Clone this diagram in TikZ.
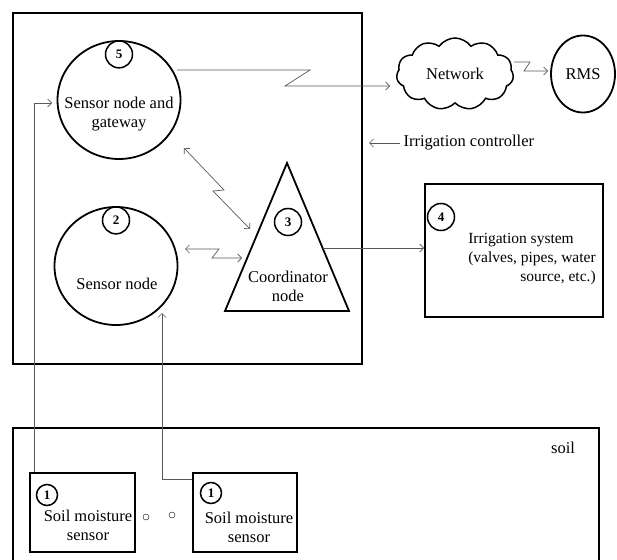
\documentclass[tikz,border=0pt]{standalone}
\usepackage{fontspec}
\setmainfont{Liberation Serif}
\usetikzlibrary{shapes.geometric,shapes.symbols,arrows.meta}
\begin{document}
\begin{tikzpicture}[x=1pt,y=-1pt,
  font=\fontsize{16.5}{19}\selectfont,
  box/.style={draw, line width=2pt},
  bigcirc/.style={draw, ellipse, line width=1.8pt, minimum width=123pt, minimum height=118pt},
  num/.style={draw, circle, line width=1.5pt, inner sep=0pt, minimum size=27pt, font=\fontsize{13}{13}\selectfont\bfseries},
  link/.style={draw=black!65, line width=0.7pt, -{Straight Barb[length=4pt,width=8pt]}}]
  \useasboundingbox (0,0) rectangle (617,559);
  \draw[box] (13,13) rectangle (362,364);
  \node[bigcirc] (gw) at (119,100) {};
  \node[num, anchor=north] (n5) at (gw.north) {5};
  \node[align=center] (gwtext) at (119,114) {Sensor node and\\gateway};
  \node[bigcirc] (sn) at (116,266) {};
  \node[num, anchor=north] (n2) at (sn.north) {2};
  \node (sntext) at (117,284) {Sensor node};
  \draw[line width=1.8pt] (287,163) -- (349,311) -- (225,311) -- cycle;
  \node[num] (n3) at (288,222) {3};
  \node[align=center] (cotext) at (288,286) {Coordinator\\node};
  \node[cloud, draw, line width=1.5pt, cloud puffs=11, cloud puff arc=110, aspect=1.6,
    minimum width=117pt, minimum height=72pt] (net) at (455,74) {Network};
  \node[draw, ellipse, line width=1.8pt, minimum width=64pt, minimum height=77pt] (rms) at (583,74) {RMS};
  \node[anchor=west] (ctrl) at (400,143) {Irrigation controller};
  \node[box, minimum width=178pt, minimum height=133pt] (irr) at (514,250.5) {};
  \node[num] (n4) at (441,217) {4};
  \node (irrtext) at (532,259) {\fontsize{15.5}{19}\selectfont\begin{tabular}{@{}l@{}}Irrigation system\\(valves, pipes, water\\\multicolumn{1}{@{}r@{}}{source, etc.)}\end{tabular}};
  \draw[box] (13,570) -- (13,428) -- (599,428) -- (599,570);
  \node (soil) at (563,448) {soil};
  \node[box, line width=1.8pt, minimum width=105pt, minimum height=79pt] (sm1) at (82.5,512.5) {};
  \node[box, line width=1.8pt, minimum width=104pt, minimum height=79pt] (sm2) at (245,512.5) {};
  \node[num, minimum size=21pt] (s1n) at (47,495) {1};
  \node[num, minimum size=21pt] (s2n) at (211,493) {1};
  \node[align=center] (sm1text) at (88,525) {Soil moisture\\sensor};
  \node[align=center] (sm2text) at (249,527) {Soil moisture\\sensor};
  \node[draw, circle, inner sep=0pt, minimum size=6pt] (dot1) at (146,517) {};
  \node[draw, circle, inner sep=0pt, minimum size=6pt] (dot2) at (172,515) {};
  \coordinate (gwin) at (52,103);
  \coordinate (snin) at (162,313);
  \coordinate (gwout) at (177,70);
  \coordinate (netin) at (390,86);
  \coordinate (netout) at (514,62);
  \coordinate (rmsin) at (548,71);
  \coordinate (coout) at (323,248);
  \coordinate (ctrlin) at (369,143);
  \draw[link] ([xshift=5pt]sm1.north west) |- (gwin);
  \draw[link] ([yshift=-7pt]sm2.north west) -| (snin);
  \draw[link] (gwout) -- ++(133,0) -- ++(-25,16) -- (netin);
  \draw[link] (netout) -- ++(16,0) -- ++(-6,9) -- (rmsin);
  \draw[link, {Straight Barb[length=4pt,width=8pt]}-{Straight Barb[length=4pt,width=8pt]}] (184,148) -- (224,190) -- (213,191) -- (250,229);
  \draw[link, {Straight Barb[length=4pt,width=8pt]}-{Straight Barb[length=4pt,width=8pt]}] (185,249) -- (219,249) -- (212,258) -- (242,258);
  \draw[link] (coout) -- (coout -| irr.west);
  \draw[link] (ctrl.west) -- (ctrlin);
\end{tikzpicture}
\end{document}
